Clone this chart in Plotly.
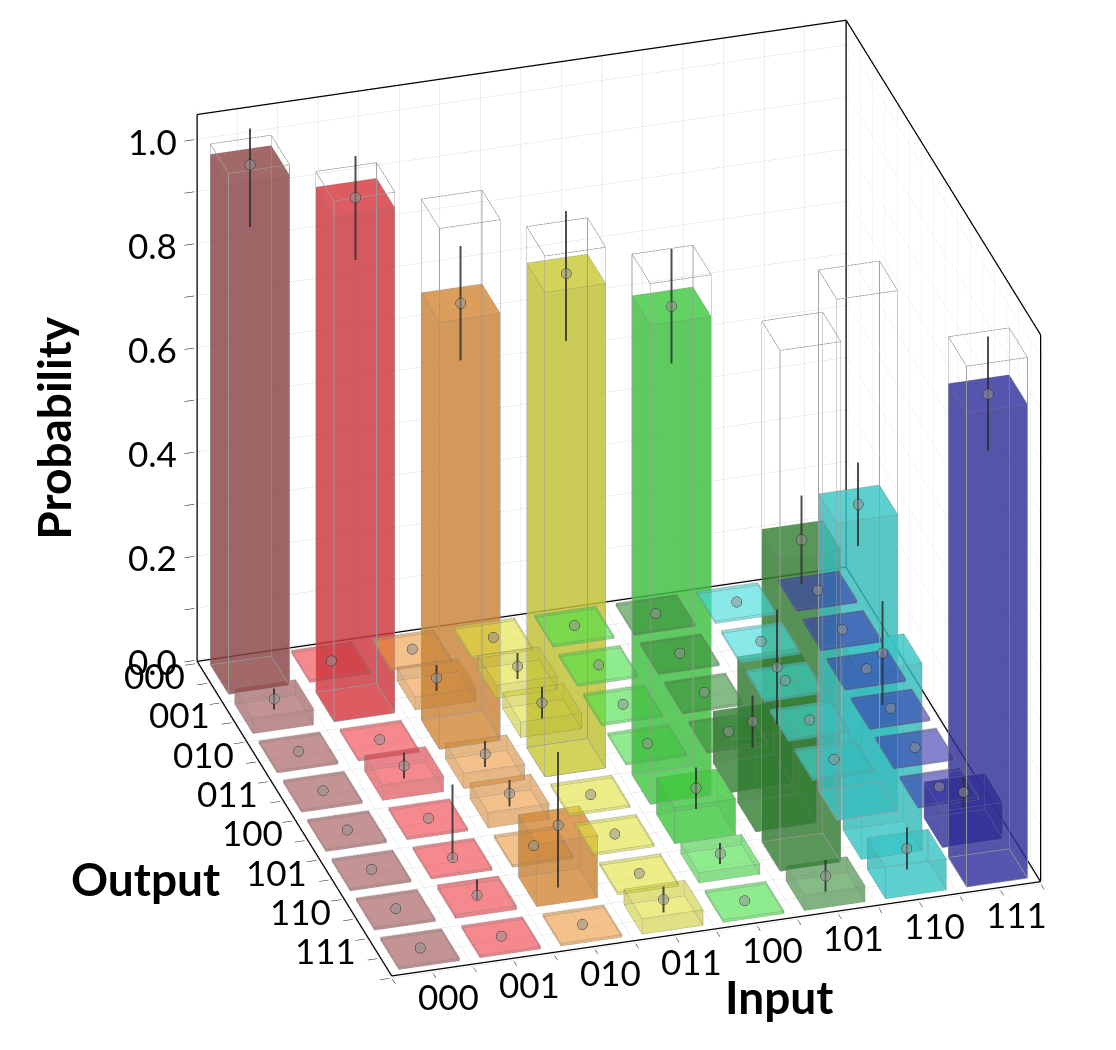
import plotly.graph_objects as go

# truth table of the gate: rows are inputs, values are output probabilities
inputs = ['000', '001', '010', '011', '100', '101', '110', '111']
outputs = ['000', '001', '010', '011', '100', '101', '110', '111']
bar_colors = ['#A05050', '#EE4048', '#EC9A40', '#E2E23C', '#48E048', '#3A903A', '#40DCDC', '#3838B0']
ideal_output = [0, 1, 2, 3, 4, 6, 5, 7]

prob_000 = [0.98, 0.03, 0.005, 0.005, 0.005, 0.005, 0.005, 0.005]
prob_001 = [0.005, 0.97, 0.005, 0.03, 0.005, 0.005, 0.008, 0.005]
prob_010 = [0.005, 0.025, 0.82, 0.03, 0.03, 0.005, 0.12, 0.005]
prob_011 = [0.005, 0.025, 0.03, 0.93, 0.005, 0.005, 0.005, 0.03]
prob_100 = [0.005, 0.005, 0.005, 0.005, 0.92, 0.07, 0.02, 0.005]
prob_101 = [0.005, 0.005, 0.005, 0.005, 0.10, 0.28, 0.60, 0.03]
prob_110 = [0.005, 0.005, 0.005, 0.005, 0.005, 0.57, 0.36, 0.06]
prob_111 = [0.005, 0.005, 0.005, 0.005, 0.005, 0.005, 0.07, 0.91]

err_000 = [0.12, 0.02, 0.0, 0.0, 0.0, 0.0, 0.0, 0.0]
err_001 = [0.0, 0.12, 0.0, 0.025, 0.0, 0.14, 0.03, 0.0]
err_010 = [0.0, 0.025, 0.11, 0.025, 0.025, 0.0, 0.14, 0.0]
err_011 = [0.0, 0.025, 0.03, 0.13, 0.0, 0.0, 0.0, 0.025]
err_100 = [0.0, 0.0, 0.0, 0.0, 0.11, 0.04, 0.02, 0.0]
err_101 = [0.0, 0.0, 0.0, 0.0, 0.05, 0.11, 0.085, 0.03]
err_110 = [0.0, 0.0, 0.0, 0.0, 0.0, 0.08, 0.10, 0.04]
err_111 = [0.0, 0.0, 0.0, 0.0, 0.0, 0.0, 0.03, 0.11]

probs = [prob_000, prob_001, prob_010, prob_011, prob_100, prob_101, prob_110, prob_111]
errs = [err_000, err_001, err_010, err_011, err_100, err_101, err_110, err_111]

z_ticks = [0.0, 0.1, 0.2, 0.3, 0.4, 0.5, 0.6, 0.7, 0.8, 0.9, 1.0]
z_labels = ['0.0', '0.2', '0.4', '0.6', '0.8', '1.0']
z_max = 1.05
half = 0.375

FACES = [(0, 1, 2), (0, 2, 3), (4, 5, 6), (4, 6, 7), (0, 1, 5), (0, 5, 4),
         (3, 2, 6), (3, 6, 7), (0, 3, 7), (0, 7, 4), (1, 2, 6), (1, 6, 5)]
EDGES = [(0, 1), (1, 2), (2, 3), (3, 0), (4, 5), (5, 6), (6, 7), (7, 4),
         (0, 4), (1, 5), (2, 6), (3, 7)]


def box_corners(xc, yc, h):
    x0, x1, y0, y1 = xc - half, xc + half, yc - half, yc + half
    xs = [x0, x1, x1, x0, x0, x1, x1, x0]
    ys = [y0, y0, y1, y1, y0, y0, y1, y1]
    zs = [0, 0, 0, 0, h, h, h, h]
    return xs, ys, zs


def add_edges(lx, ly, lz, xs, ys, zs):
    for a, b in EDGES:
        lx += [xs[a], xs[b], None]
        ly += [ys[a], ys[b], None]
        lz += [zs[a], zs[b], None]


def box_mesh(cells, color, opacity):
    mx, my, mz, fi, fj, fk = [], [], [], [], [], []
    for xc, yc, h in cells:
        xs, ys, zs = box_corners(xc, yc, h)
        n = len(mx)
        mx += xs
        my += ys
        mz += zs
        for a, b, c in FACES:
            fi.append(n + a)
            fj.append(n + b)
            fk.append(n + c)
    return go.Mesh3d(x=mx, y=my, z=mz, i=fi, j=fj, k=fk, color=color,
                     opacity=opacity, flatshading=True, hoverinfo='skip',
                     lighting=dict(ambient=0.85, diffuse=0.25, specular=0.0,
                                   roughness=1.0, fresnel=0.0))


fig = go.Figure()

# output 000 sits at the back, so the y coordinate runs the other way
ypos = lambda j: 7 - j

edge_x, edge_y, edge_z = [], [], []
for i, row in enumerate(probs):
    # thin tiles look lighter than the solid columns in the original
    flat = [(i, ypos(j), h) for j, h in enumerate(row) if h < 0.05]
    solid = [(i, ypos(j), h) for j, h in enumerate(row) if h >= 0.05]
    if flat:
        fig.add_trace(box_mesh(flat, bar_colors[i], 0.38))
    if solid:
        fig.add_trace(box_mesh(solid, bar_colors[i], 0.58))
    for j, h in enumerate(row):
        add_edges(edge_x, edge_y, edge_z, *box_corners(i, ypos(j), h))

fig.add_trace(go.Scatter3d(x=edge_x, y=edge_y, z=edge_z, mode='lines',
                           line=dict(color='rgba(50,50,50,0.4)', width=1.5), hoverinfo='skip'))

# ideal outcomes drawn as empty wire boxes
wx, wy, wz = [], [], []
for i, j in enumerate(ideal_output):
    add_edges(wx, wy, wz, *box_corners(i, ypos(j), 1.0))
fig.add_trace(go.Scatter3d(x=wx, y=wy, z=wz, mode='lines',
                           line=dict(color='rgba(140,140,140,0.9)', width=1.5), hoverinfo='skip'))

# error bars and centre dots
ex, ey, ez, dx, dy, dz = [], [], [], [], [], []
for i, row in enumerate(probs):
    for j, h in enumerate(row):
        e = errs[i][j]
        dx.append(i)
        dy.append(ypos(j))
        dz.append(h)
        if e > 0:
            ex += [i, i, None]
            ey += [ypos(j), ypos(j), None]
            ez += [max(h - e, 0), min(h + e, z_max), None]
fig.add_trace(go.Scatter3d(x=ex, y=ey, z=ez, mode='lines',
                           line=dict(color='rgba(40,40,40,0.85)', width=4), hoverinfo='skip'))
fig.add_trace(go.Scatter3d(x=dx, y=dy, z=dz, mode='markers', hoverinfo='skip',
                           marker=dict(size=6, color='rgba(80,80,80,0.55)', symbol='circle',
                                       line=dict(color='rgba(30,30,30,0.85)', width=1.5))))

# frame of the back walls and floor, kept a hair inside the axis ranges
x0, x1, y0, y1 = -0.5, 7.5, -0.5, 7.5
pad = 0.03
frame = [((x0, y1, 0), (x0, y1, z_max)), ((x1, y1, 0), (x1, y1, z_max)), ((x1, y0, 0), (x1, y0, z_max)),
         ((x0, y1, z_max), (x1, y1, z_max)), ((x1, y1, z_max), (x1, y0, z_max)),
         ((x0, y0, 0), (x1, y0, 0)), ((x0, y0, 0), (x0, y1, 0)),
         ((x0, y1, 0), (x1, y1, 0)), ((x1, y1, 0), (x1, y0, 0))]
fx, fy, fz = [], [], []
for p, q in frame:
    fx += [p[0], q[0], None]
    fy += [p[1], q[1], None]
    fz += [p[2], q[2], None]
fig.add_trace(go.Scatter3d(x=fx, y=fy, z=fz, mode='lines',
                           line=dict(color='black', width=2.5), hoverinfo='skip'))

axis_common = dict(showgrid=True, gridcolor='#dedede', gridwidth=1, zeroline=False,
                   showline=False, showbackground=False, ticks='outside', ticklen=10,
                   tickcolor='black', showticklabels=False, showspikes=False, title=dict(text=''))

# horizontal tick labels placed next to the axes
label_font = dict(family='Lato', size=35, color='black')
tick_notes = []
for i, t in enumerate(inputs):
    tick_notes.append(dict(x=i, y=y0, z=0, text=t, showarrow=False, font=label_font,
                           xanchor='center', yanchor='top', xshift=16, yshift=-3))
for j, t in enumerate(outputs):
    tick_notes.append(dict(x=x0, y=ypos(j), z=0, text=t, showarrow=False, font=label_font,
                           xanchor='right', yanchor='middle', xshift=-22, yshift=6))
for t in z_labels:
    tick_notes.append(dict(x=x0, y=y1, z=float(t), text=t, showarrow=False,
                           font=label_font, xanchor='right', yanchor='middle', xshift=-18))

cam_center = dict(x=-0.095, y=0.034, z=-0.079)
cam_dir = dict(x=-0.488, y=-1.628, z=0.942)
cam_eye = {k: cam_center[k] + cam_dir[k] for k in cam_dir}

title_font = dict(family='Lato', size=46, color='black')
fig.update_layout(
    width=1116, height=1050,
    paper_bgcolor='white',
    showlegend=False,
    margin=dict(l=0, r=0, t=0, b=0),
    scene=dict(
        xaxis=dict(range=[x0 - pad, x1 + pad], tickvals=[k / 2 - 0.5 for k in range(17)], **axis_common),
        yaxis=dict(range=[y0 - pad, y1 + pad], tickvals=[k / 2 - 0.5 for k in range(17)], **axis_common),
        zaxis=dict(range=[-0.004, z_max + 0.004], tickvals=z_ticks, **axis_common),
        aspectmode='manual',
        aspectratio=dict(x=1.3, y=1.3, z=1.2),
        camera=dict(eye=cam_eye, center=cam_center,
                    up=dict(x=0, y=0, z=1), projection=dict(type='orthographic')),
        domain=dict(x=[0, 1], y=[0, 1]),
        annotations=tick_notes,
    ),
    annotations=[
        dict(text='<b>Probability</b>', x=0.040, y=0.60, xref='paper', yref='paper', showarrow=False,
             textangle=-90, xanchor='center', yanchor='middle', font=title_font),
        dict(text='<b>Output</b>', x=0.123, y=0.171, xref='paper', yref='paper', showarrow=False,
             xanchor='center', yanchor='middle', font=title_font),
        dict(text='<b>Input</b>', x=0.691, y=0.059, xref='paper', yref='paper', showarrow=False,
             xanchor='center', yanchor='middle', font=title_font),
    ],
)

fig.write_html('out.html')
